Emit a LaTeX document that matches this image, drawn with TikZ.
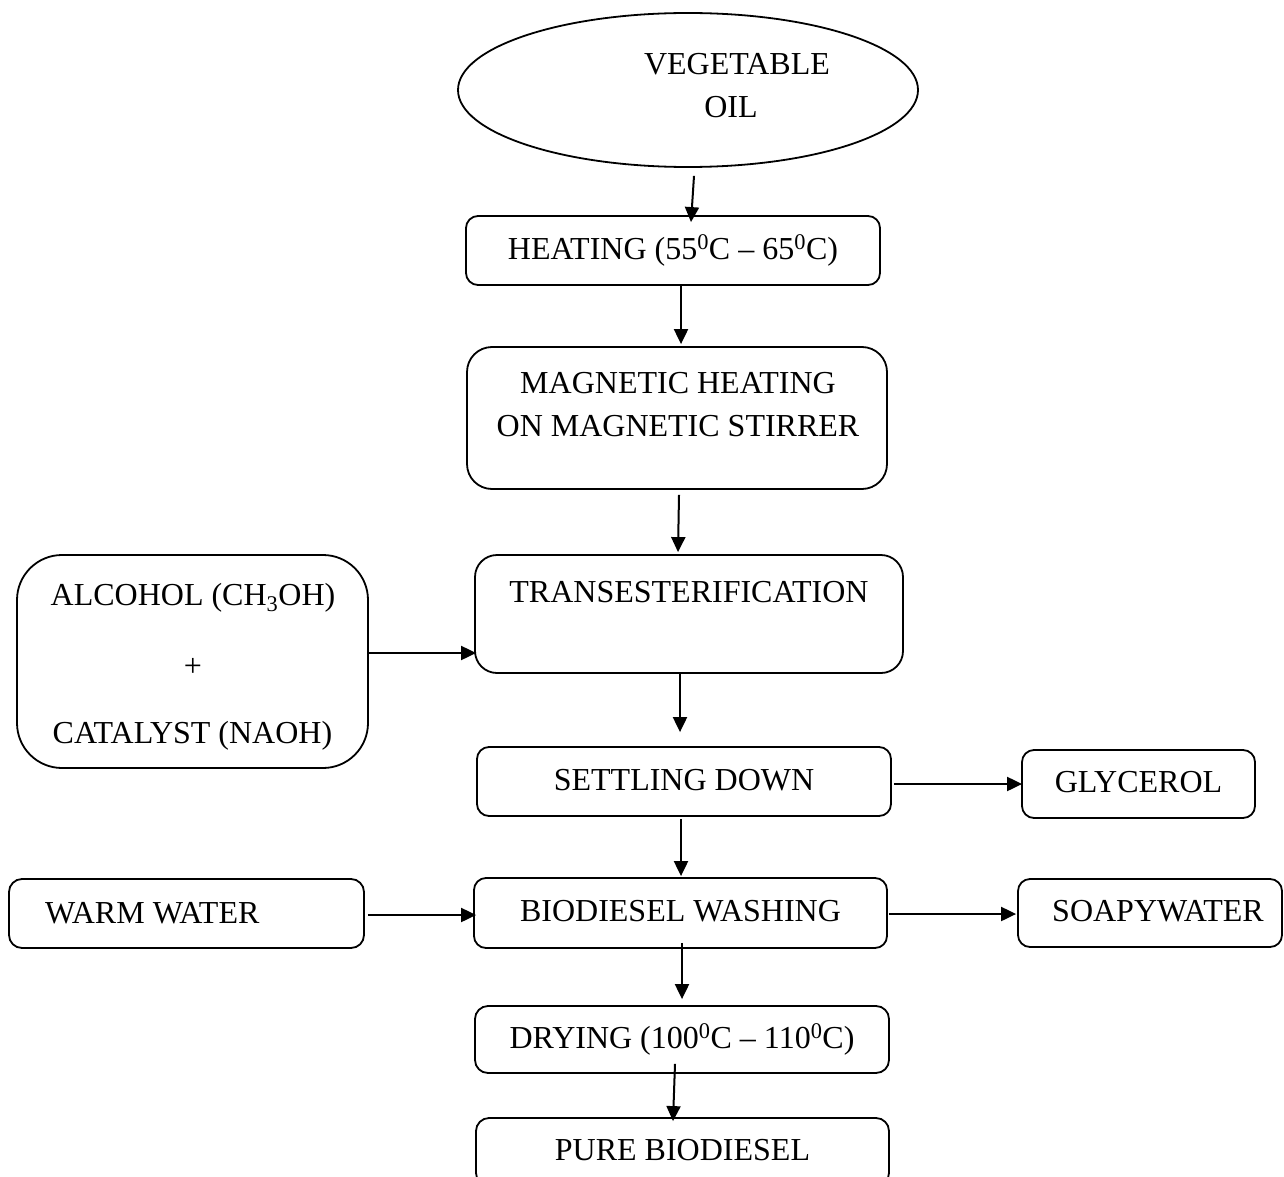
\documentclass[tikz,border=0pt]{standalone}
\usepackage{fontspec}
\setmainfont{Liberation Serif}
\usetikzlibrary{arrows.meta,shapes.geometric,calc}
\begin{document}
\begin{tikzpicture}[x=1pt,y=-1pt,
  every node/.style={font=\fontsize{32}{43}\selectfont, inner sep=0pt},
  box/.style={draw, line width=1.8pt, rounded corners=#1, text height=24pt, text depth=7pt},
  box/.default=12pt,
  arr/.style={line width=2pt, -{Triangle[length=15pt,width=14pt]}},
  lbl/.style={anchor=base}
]
\useasboundingbox (0,0) rectangle (1284,1177);
\fill[white] (0,0) rectangle (1284,1177);
\clip (0,0) rectangle (1284,1177);

% shapes
\node[draw, ellipse, line width=1.8pt, minimum width=460pt, minimum height=154pt] (oil) at (688,90) {};
\node[lbl] (oilt1) at (737,75) {VEGETABLE};
\node[lbl] (oilt2) at (731,118) {OIL};

\node[box, minimum width=414pt, minimum height=69pt] (heat) at (673,250.5) {HEATING (55\textsuperscript{0}C -- 65\textsuperscript{0}C)};

\node[box=25pt, minimum width=420pt, minimum height=142pt] (mag) at (677,418) {};
\node[lbl] (magt1) at (678,393) {MAGNETIC HEATING};
\node[lbl] (magt2) at (678,436) {ON MAGNETIC STIRRER};

\node[box=22pt, minimum width=428pt, minimum height=118pt] (trans) at (689,614) {};
\node[lbl] (transt) at (689,602) {TRANSESTERIFICATION};

\node[box=45pt, minimum width=351pt, minimum height=213pt] (alc) at (192.5,661.5) {};
\node[lbl] (alct1) at (193,605) {ALCOHOL (CH\textsubscript{3}OH)};
\node[lbl] (alct2) at (193,676) {+};
\node[lbl] (alct3) at (192.5,743) {CATALYST (NAOH)};

\node[box, minimum width=414pt, minimum height=69pt] (settle) at (684,781.5) {SETTLING DOWN};
\node[box, minimum width=233pt, minimum height=68pt] (gly) at (1138.5,784) {GLYCEROL};

\node[box=13pt, minimum width=355pt, minimum height=69pt] (warm) at (186.5,913.5) {};
\node[anchor=base west] (warmt) at (45,923) {WARM WATER};

\node[box, minimum width=413pt, minimum height=70pt] (wash) at (680.5,913) {BIODIESEL WASHING};
\node[box, minimum width=264pt, minimum height=68pt] (soapy) at (1150,913) {\hspace*{16pt}SOAPYWATER};

\node[box=13pt, minimum width=414pt, minimum height=67pt] (dry) at (682,1039.5) {DRYING (100\textsuperscript{0}C -- 110\textsuperscript{0}C)};
\node[box=13pt, minimum width=413pt, minimum height=68pt] (pure) at (682.5,1152) {PURE BIODIESEL};

% connectors
\draw[arr] ($(oil.south)+(6,8)$) -- ($(heat.north)+(18,7)$);
\draw[arr] ($(heat.south)+(8,0)$) -- ($(mag.north)+(4,-2)$);
\draw[arr] ($(mag.south)+(2,5)$) -- ($(trans.north)+(-11,-2)$);
\draw[arr] ($(alc.east)+(0,-8.5)$) -- ($(trans.west)+(2,39)$);
\draw[arr] ($(trans.south)+(-9,0)$) -- ($(settle.north)+(-4,-14)$);
\draw[arr] ($(settle.east)+(2,2.5)$) -- ($(gly.west)+(1,0)$);
\draw[arr] ($(settle.south)+(-3,2)$) -- ($(wash.north)+(0.5,-1)$);
\draw[arr] ($(warm.east)+(3,1.5)$) -- ($(wash.west)+(3,2)$);
\draw[arr] ($(wash.east)+(1,1)$) -- ($(soapy.west)+(-1,1)$);
\draw[arr] ($(wash.south)+(1.5,-6)$) -- ($(dry.north)+(0,-6)$);
\draw[arr] ($(dry.south)+(-7,-10)$) -- ($(pure.north)+(-9.5,4)$);
\end{tikzpicture}
\end{document}
